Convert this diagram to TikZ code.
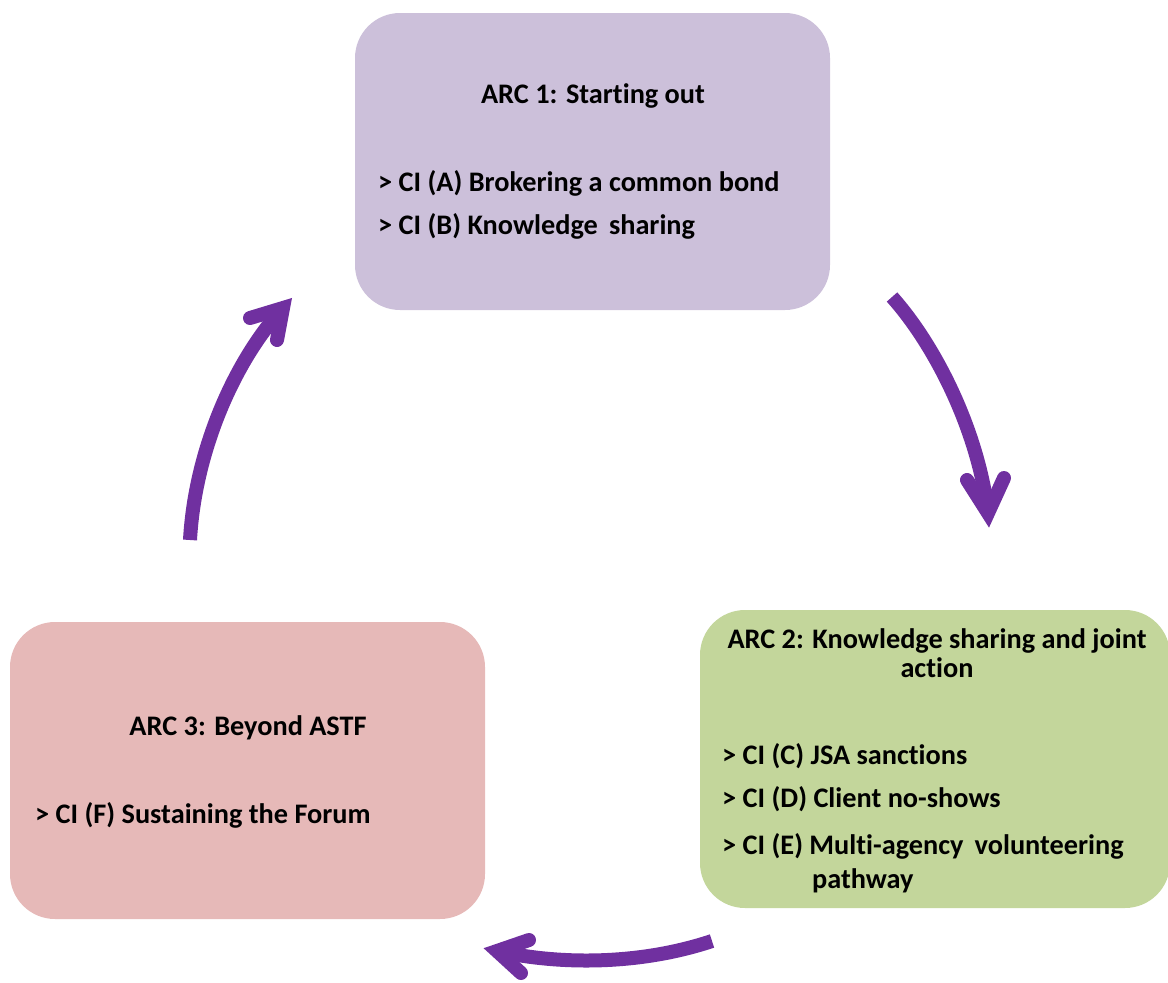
\documentclass[tikz,border=0pt]{standalone}
\usepackage{fontspec}
\setmainfont{Carlito}[Ligatures=NoCommon]
\begin{document}
\begin{tikzpicture}[x=1pt,y=-1pt,
  arcbox/.style={rounded corners=45pt, draw=none, inner sep=0pt},
  title/.style={font=\bfseries\fontsize{28.3}{32}\selectfont, inner sep=0pt, align=center},
  item/.style={font=\bfseries\fontsize{28.3}{32}\selectfont, inner sep=0pt, anchor=west},
  cycleline/.style={draw=arrowpurple, line width=14pt},
  barb/.style={draw=arrowpurple, line width=14pt, line cap=round, line join=miter}]
\definecolor{arcone}{HTML}{CCC0DA}
\definecolor{arctwo}{HTML}{C3D69B}
\definecolor{arcthree}{HTML}{E6B9B8}
\definecolor{arrowpurple}{HTML}{7030A0}
\useasboundingbox (0,0) rectangle (1168,983);

% stage boxes
\node[arcbox, fill=arcone, minimum width=475pt, minimum height=297pt] (arc1) at (592.5,161.5) {};
\node[arcbox, fill=arctwo, minimum width=470pt, minimum height=298pt] (arc2) at (935,759) {};
\node[arcbox, fill=arcthree, minimum width=475pt, minimum height=297pt] (arc3) at (247.5,770.5) {};

% stage texts
\node[title] (t1) at (593,96) {ARC 1: Starting out};
\node[item] (a1) at (378,183) {> CI (A) Brokering a common bond};
\node[item] (b1) at (378,226) {> CI (B) Knowledge\, sharing};

\node[title] (t2) at (937,653) {ARC 2: Knowledge sharing and joint\\[-3pt] action};
\node[item] (c2) at (722,756) {> CI (C) JSA sanctions};
\node[item] (d2) at (722,799) {> CI (D) Client no-shows};
\node[item] (e2) at (722,846) {> CI (E) Multi-agency\, volunteering};
\node[item] (p2) at (812,881) {pathway};

\node[title] (t3) at (248,728) {ARC 3: Beyond ASTF};
\node[item] (f3) at (35,815) {> CI (F) Sustaining the Forum};

% cycle arrows
\coordinate (r0) at (892,297);
\coordinate (rt) at (988,513);
\coordinate (rl) at (967,480);
\coordinate (rr) at (1004,478);
\draw[cycleline] (r0) .. controls (935,345) and (978,430) .. (rt);
\draw[barb] (rl) -- (rt) -- (rr);

\coordinate (b0) at (712,941);
\coordinate (bt) at (497,951);
\coordinate (bu) at (529,940);
\coordinate (bd) at (521,973);
\draw[cycleline] (b0) .. controls (640,965) and (560,965) .. (bt);
\draw[barb] (bu) -- (bt) -- (bd);

\coordinate (l0) at (190,540);
\coordinate (lt) at (283,308);
\coordinate (lu) at (250,318);
\coordinate (ld) at (277,340);
\draw[cycleline] (l0) .. controls (195,450) and (235,360) .. (lt);
\draw[barb] (lu) -- (lt) -- (ld);
\end{tikzpicture}
\end{document}
